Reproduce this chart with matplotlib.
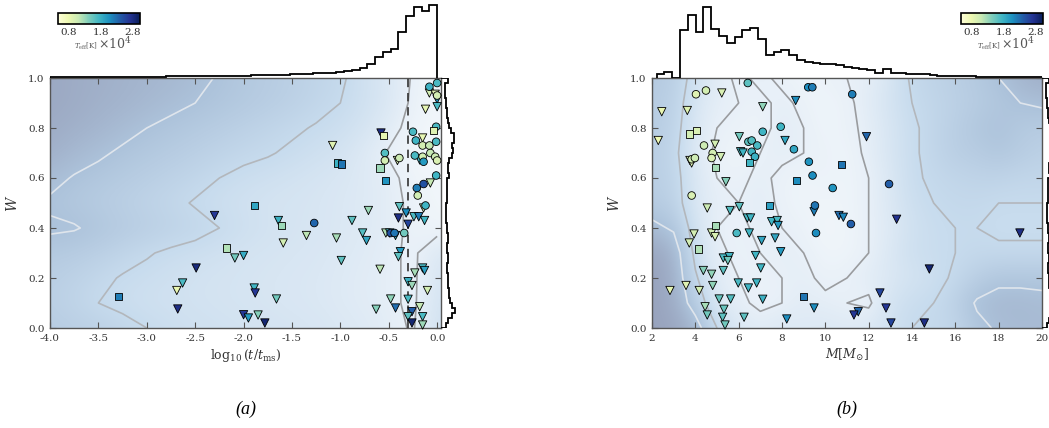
import numpy as np
import matplotlib
matplotlib.use('Agg')
import matplotlib.pyplot as plt
from matplotlib.colors import LinearSegmentedColormap, Normalize
from matplotlib.cm import ScalarMappable

plt.rcParams['font.family'] = ['DejaVu Serif']
plt.rcParams['mathtext.fontset'] = 'dejavuserif'

# ---------------- stars: (a) age fraction vs W ----------------
tri_a_x = [-2.30, -2.09, -2.00, -2.49, -2.63, -2.69, -2.68, -2.00, -1.95, -1.89, -1.88, -1.66,
           -1.85, -1.78, -1.64, -1.59, -1.35, -1.08, -1.04, -0.99, -0.88, -0.77, -0.73, -0.71,
           -0.58, -0.41, -0.15, -0.07, -0.14, -0.39, -0.32, -0.40, -0.30, -0.24, -0.19, -0.13,
           -0.53, -0.49, -0.43, -0.38, -0.40, -0.59, -0.30, -0.26, -0.15, -0.13, -0.23, -0.10,
           -0.48, -0.43, -0.30, -0.26, -0.18, -0.30, -0.26, -0.15, -0.15, -0.63, -0.08, -0.02,
           0.00, -0.12, 0.00, -0.18]
tri_a_w = [0.45, 0.28, 0.29, 0.24, 0.18, 0.15, 0.076, 0.053, 0.04, 0.16, 0.14, 0.116,
           0.052, 0.02, 0.43, 0.34, 0.37, 0.73, 0.36, 0.27, 0.43, 0.38, 0.35, 0.47,
           0.78, 0.67, 0.76, 0.58, 0.48, 0.485, 0.46, 0.44, 0.415, 0.445, 0.445, 0.43,
           0.38, 0.38, 0.37, 0.305, 0.285, 0.235, 0.185, 0.17, 0.24, 0.23, 0.22, 0.15,
           0.116, 0.08, 0.115, 0.065, 0.085, 0.045, 0.02, 0.045, 0.012, 0.075, 0.94, 0.935,
           0.915, 0.875, 0.885, 0.672]
tri_a_t = [27000, 15000, 18500, 28500, 17000, 8000, 28000, 27000, 20000, 17500, 27000, 15000,
           14000, 29000, 18000, 10000, 11500, 9000, 12500, 16000, 16000, 16500, 19000, 13000,
           28000, 9500, 8500, 11000, 10000, 16000, 21000, 28000, 26000, 17000, 22000, 17500,
           12000, 17000, 17500, 20000, 16000, 11500, 18000, 13000, 17000, 19500, 12500, 10000,
           13500, 23000, 17000, 24000, 11000, 16000, 29000, 17000, 13000, 14000, 10000, 9000,
           21000, 8500, 17000, 17500]

circ_a_x = [-1.27, -0.54, -0.54, -0.39, -0.25, -0.22, -0.15, -0.08, -0.01, -0.15, -0.07, -0.02,
            0.00, -0.23, -0.14, -0.01, -0.21, -0.14, -0.20, -0.12, -0.48, -0.44, -0.34, -0.08,
            0.00, -0.01, 0.00]
circ_a_w = [0.42, 0.70, 0.67, 0.68, 0.785, 0.75, 0.73, 0.73, 0.745, 0.685, 0.70, 0.685,
            0.67, 0.69, 0.665, 0.61, 0.56, 0.576, 0.53, 0.49, 0.38, 0.38, 0.38, 0.965,
            0.98, 0.805, 0.93]
circ_a_t = [23500, 16500, 10000, 10500, 17000, 17500, 10000, 11000, 17000, 10000, 11000, 10500,
            9500, 17000, 20000, 17500, 22000, 25000, 10000, 17500, 25000, 22500, 15000, 18000,
            17000, 17000, 10000]

sq_a_x = [-2.18, -3.29, -1.89, -1.61, -1.03, -0.99, -0.55, -0.59, -0.53, -0.04]
sq_a_w = [0.32, 0.125, 0.49, 0.41, 0.66, 0.656, 0.77, 0.64, 0.59, 0.79]
sq_a_t = [12000, 22000, 19000, 13000, 18000, 22500, 8500, 13000, 20500, 9000]

# ---------------- stars: (b) mass vs W ----------------
tri_b_m = [2.45, 2.29, 3.63, 5.22, 7.11, 8.14, 8.63, 4.91, 5.17, 3.75, 3.83, 6.03, 6.09, 6.20,
           5.41, 4.55, 5.60, 6.03, 6.40, 6.55, 7.52, 7.78, 7.82, 7.68, 7.06, 6.49, 7.94, 4.75,
           4.91, 3.94, 3.72, 5.29, 5.57, 5.50, 6.78, 7.02, 4.37, 4.75, 5.29, 4.80, 5.98, 6.45,
           6.83, 3.57, 2.83, 4.18, 5.10, 5.63, 7.11, 4.45, 5.32, 4.55, 5.26, 6.25, 5.37, 8.22,
           9.48, 9.48, 11.90, 10.63, 10.83, 13.29, 18.98, 14.80, 12.52, 12.80, 11.52, 11.32,
           13.03, 14.57]
tri_b_w = [0.865, 0.75, 0.87, 0.94, 0.885, 0.75, 0.91, 0.735, 0.685, 0.67, 0.66, 0.765, 0.705,
           0.70, 0.585, 0.48, 0.47, 0.485, 0.44, 0.44, 0.425, 0.43, 0.41, 0.36, 0.35, 0.38,
           0.305, 0.38, 0.365, 0.376, 0.34, 0.28, 0.285, 0.27, 0.29, 0.24, 0.23, 0.215, 0.23,
           0.17, 0.18, 0.16, 0.18, 0.17, 0.15, 0.15, 0.116, 0.116, 0.115, 0.085, 0.075, 0.052,
           0.043, 0.043, 0.012, 0.036, 0.08, 0.465, 0.765, 0.45, 0.443, 0.435, 0.38, 0.236,
           0.14, 0.08, 0.065, 0.052, 0.02, 0.02]
tri_b_t = [8000, 7500, 9000, 9500, 13500, 19000, 21000, 10000, 10000, 9500, 9000, 15000, 17000,
           17500, 14000, 10500, 16500, 16000, 17000, 17500, 17500, 17000, 20000, 19000, 19000,
           17500, 20000, 10000, 9500, 10000, 10000, 17000, 17500, 15000, 17500, 17500, 14000,
           13500, 16000, 13500, 17000, 17500, 17500, 9000, 8500, 10000, 15500, 16500, 18000,
           12500, 15500, 15000, 16000, 16000, 15000, 21000, 21000, 22000, 23500, 23000, 21500,
           27500, 28000, 29000, 26000, 27000, 23500, 27000, 26000, 28000]

circ_b_m = [4.03, 4.49, 6.42, 7.11, 7.94, 8.55, 9.21, 9.40, 9.24, 9.41, 9.52, 9.57, 4.40, 4.80,
            4.75, 3.83, 3.98, 6.45, 6.60, 6.86, 6.60, 6.75, 3.83, 5.91, 11.24, 10.34, 12.94,
            11.18]
circ_b_w = [0.935, 0.95, 0.98, 0.785, 0.805, 0.715, 0.963, 0.963, 0.665, 0.61, 0.49, 0.38,
            0.73, 0.70, 0.68, 0.675, 0.68, 0.745, 0.75, 0.73, 0.705, 0.685, 0.53, 0.38, 0.935,
            0.56, 0.576, 0.416]
circ_b_t = [9000, 10000, 16000, 17500, 17500, 19000, 21000, 22000, 20500, 21000, 22500, 21000,
            10500, 10000, 9500, 10000, 10500, 16000, 16500, 17000, 17500, 18000, 9500, 17000,
            22000, 20500, 24000, 24000]

sq_b_m = [3.72, 4.06, 4.95, 6.49, 8.68, 7.41, 4.91, 4.14, 8.98, 10.75]
sq_b_w = [0.776, 0.79, 0.643, 0.663, 0.59, 0.49, 0.41, 0.316, 0.125, 0.655]
sq_b_t = [10000, 9500, 12500, 17500, 21000, 19500, 12500, 12000, 22500, 22500]

# ---------------- model population: marginal histograms ----------------
age_edges = np.linspace(-4.0, 0.0, 51)
age_counts = [0.8, 0.9, 0.9, 1.0, 1.0, 1.1, 1.1, 1.2, 1.2, 1.3,
              1.3, 1.4, 1.4, 1.5, 1.5, 1.6, 1.7, 1.7, 1.8, 1.9,
              2.0, 2.1, 2.2, 2.3, 2.4, 2.5, 2.6, 2.8, 3.0, 3.1,
              3.3, 3.6, 3.9, 4.2, 4.6, 5.0, 5.5, 6.2, 7.2, 8.0,
              9.7, 13.7, 20.7, 25.7, 29.0, 45.7, 62.0, 70.7, 67.0, 72.7]

mass_edges = np.linspace(2.21, 20.21, 51)
mass_counts = [4.0, 6.3, 0.0, 48.0, 63.0, 46.0, 71.0, 49.0, 42.0, 35.0,
               41.0, 48.0, 50.0, 39.0, 23.0, 26.0, 28.0, 23.0, 18.0, 16.0,
               15.0, 14.5, 14.0, 13.0, 11.0, 10.0, 9.5, 8.0, 5.3, 8.7,
               5.3, 5.0, 4.5, 4.0, 4.0, 3.0, 2.0, 1.8, 1.7, 1.6,
               1.6, 1.5, 1.5, 1.5, 1.4, 1.4, 1.4, 1.3, 1.3, 1.2]

w_edges = np.linspace(0.0, 1.0, 51)
w_counts = [5.0, 7.0, 11.0, 14.5, 10.5, 8.5, 8.0, 7.5, 7.0, 7.0,
            6.5, 6.0, 6.0, 6.5, 6.5, 6.0, 6.0, 6.5, 7.0, 6.0,
            5.5, 5.0, 4.5, 5.0, 5.0, 5.5, 6.0, 5.5, 6.0, 6.0,
            7.5, 7.0, 7.0, 8.0, 11.0, 12.0, 11.0, 13.0, 13.0, 10.0,
            8.0, 7.0, 6.0, 5.5, 5.0, 4.5, 4.0, 3.5, 3.5, 7.3]

# ---------------- model population: smoothed density maps ----------------
# (a): columns log t/tms = -4.0 .. 0.0 step 0.25, rows W = 0.0 .. 1.0 step 0.1
bg_a = [
    [1.4, 1.5, 1.6, 1.8, 2.0, 2.15, 2.25, 2.3, 2.35, 2.4, 2.45, 2.5, 2.6, 2.7, 2.85, 3.05, 2.3],
    [1.55, 1.75, 2.0, 2.15, 2.25, 2.3, 2.35, 2.4, 2.45, 2.5, 2.55, 2.6, 2.7, 2.8, 2.9, 3.1, 2.4],
    [1.5, 1.65, 1.85, 2.05, 2.15, 2.25, 2.35, 2.4, 2.45, 2.5, 2.55, 2.6, 2.7, 2.8, 2.9, 3.1, 2.5],
    [1.3, 1.4, 1.55, 1.75, 1.95, 2.1, 2.2, 2.3, 2.4, 2.45, 2.5, 2.55, 2.65, 2.75, 2.9, 3.1, 2.6],
    [0.9, 0.95, 1.15, 1.35, 1.5, 1.65, 1.8, 2.0, 2.2, 2.35, 2.45, 2.5, 2.6, 2.7, 2.85, 3.1, 3.2],
    [1.1, 1.25, 1.4, 1.55, 1.7, 1.85, 2.05, 2.2, 2.3, 2.4, 2.45, 2.5, 2.6, 2.7, 2.85, 3.1, 3.3],
    [0.8, 1.05, 1.2, 1.35, 1.5, 1.65, 1.8, 2.0, 2.15, 2.25, 2.35, 2.45, 2.55, 2.7, 2.85, 3.2, 3.3],
    [0.45, 0.7, 0.9, 1.1, 1.25, 1.4, 1.55, 1.7, 1.85, 1.95, 2.1, 2.25, 2.4, 2.7, 3.05, 3.3, 3.4],
    [0.3, 0.45, 0.6, 0.8, 1.0, 1.15, 1.3, 1.45, 1.6, 1.75, 1.9, 2.05, 2.2, 2.45, 2.8, 3.2, 3.3],
    [0.2, 0.3, 0.45, 0.55, 0.7, 0.85, 1.0, 1.15, 1.3, 1.45, 1.6, 1.8, 2.0, 2.3, 2.6, 3.1, 3.3],
    [0.2, 0.3, 0.4, 0.5, 0.6, 0.7, 0.85, 1.05, 1.25, 1.4, 1.55, 1.75, 1.9, 2.3, 2.6, 3.05, 3.3],
]
# (b): columns M = 2 .. 20 step 1, rows W = 0.0 .. 1.0 step 0.1
bg_b = [
    [0.0, 0.1, 0.6, 2.0, 2.6, 2.8, 2.6, 2.7, 2.6, 2.7, 2.6, 2.3, 2.0, 1.9, 1.8, 1.2, 0.9, 0.8, 0.8],
    [0.0, 0.3, 1.4, 2.7, 2.9, 3.1, 3.0, 2.8, 2.9, 3.0, 3.1, 2.4, 2.1, 2.0, 1.6, 0.9, 0.7, 0.7, 0.8],
    [0.0, 0.35, 1.9, 2.8, 3.0, 3.1, 3.0, 2.9, 3.1, 3.0, 2.8, 2.6, 2.4, 2.2, 1.9, 1.5, 1.2, 1.2, 1.2],
    [0.1, 0.5, 2.2, 2.9, 3.1, 3.0, 2.9, 3.0, 3.2, 3.2, 3.0, 2.6, 2.2, 2.1, 2.0, 1.9, 1.9, 1.9, 1.9],
    [0.8, 1.1, 2.4, 3.0, 3.1, 2.9, 3.0, 3.1, 3.3, 3.2, 3.0, 2.7, 2.3, 2.1, 2.0, 2.0, 2.1, 2.1, 2.1],
    [1.4, 1.6, 2.6, 2.9, 3.0, 2.8, 3.1, 3.2, 3.2, 3.2, 3.0, 2.6, 2.2, 2.0, 1.9, 1.9, 2.0, 2.0, 2.0],
    [1.5, 1.7, 2.6, 3.0, 3.1, 2.9, 3.1, 3.2, 3.1, 3.2, 3.0, 2.6, 2.1, 1.9, 1.8, 1.7, 1.7, 1.8, 1.8],
    [1.5, 1.8, 2.7, 3.1, 3.2, 3.0, 2.9, 3.0, 3.1, 3.2, 2.9, 2.5, 2.1, 1.8, 1.5, 1.4, 1.2, 1.4, 1.6],
    [1.4, 1.7, 2.6, 3.0, 3.1, 3.2, 2.8, 3.0, 3.2, 3.1, 2.9, 2.5, 2.1, 1.8, 1.5, 1.2, 1.0, 1.3, 1.4],
    [1.4, 1.6, 2.5, 2.9, 3.0, 3.1, 2.9, 3.1, 3.2, 3.1, 2.8, 2.4, 2.0, 1.8, 1.6, 1.4, 1.2, 1.0, 0.9],
    [1.3, 1.5, 2.3, 2.8, 3.1, 2.9, 3.1, 3.2, 3.1, 3.0, 2.9, 2.5, 1.9, 1.7, 1.5, 1.3, 1.0, 0.6, 0.4],
]

bg_cmap = LinearSegmentedColormap.from_list(
    'bg', [(0.0, '#98a3bd'), (0.3, '#adc3db'), (0.6, '#c8dcee'), (0.88, '#e8f0f8'), (1.0, '#f4f8fb')])
teff_norm = Normalize(4500, 30500)
teff_cmap = plt.get_cmap('YlGnBu')

FW, FH = 1049.0, 428.0
fig = plt.figure(figsize=(FW / 100, FH / 100), dpi=100)


def box(x0, y0, x1, y1):
    # pixel box measured from the top-left corner -> figure rectangle
    return [x0 / FW, 1 - y1 / FH, (x1 - x0) / FW, (y1 - y0) / FH]


def draw_panel(px0, px1, xlim, xticks, xlabel, grid, gx, stars, top_edges, top_counts,
               cbar_px, caption):
    ax = fig.add_axes(box(px0, 78, px1, 328))
    grid = np.array(grid)
    step = gx[1] - gx[0]
    ax.imshow(grid, origin='lower', aspect='auto', cmap=bg_cmap, vmin=0, vmax=3.4,
              interpolation='bicubic', zorder=0,
              extent=(gx[0] - step / 2, gx[-1] + step / 2, -0.05, 1.05))
    gy = np.linspace(0, 1, grid.shape[0])
    ax.contour(gx, gy, grid, levels=[1.0], colors=['#dfe5ec'], linewidths=1.2, zorder=1)
    ax.contour(gx, gy, grid, levels=[2.0], colors=['#b3b7bc'], linewidths=1.2, zorder=1)
    ax.contour(gx, gy, grid, levels=[3.0], colors=['#9a9c9f'], linewidths=1.2, zorder=1)

    for (x, w, t), mk, s in zip(stars, ['v', 'o', 's'], [36, 30, 26]):
        ax.scatter(x, w, c=t, cmap=teff_cmap, norm=teff_norm, marker=mk, s=s,
                   edgecolors='k', linewidths=0.6, zorder=4, clip_on=False)

    ax.set_xlim(*xlim)
    ax.set_ylim(0, 1)
    ax.set_xticks(xticks)
    ax.set_yticks(np.arange(0, 1.01, 0.2))
    ax.xaxis.set_major_formatter(plt.FormatStrFormatter('%g' if xlim[1] > 5 else '%.1f'))
    ax.yaxis.set_major_formatter(plt.FormatStrFormatter('%.1f'))
    ax.tick_params(direction='in', top=True, right=True, length=4, width=0.8, color='#555555',
                   labelsize=7.5, labelcolor='#333333', pad=4)
    for sp in ax.spines.values():
        sp.set_color('#555555')
        sp.set_linewidth(1.0)
    ax.set_xlabel(xlabel, fontsize=9, color='#333333', labelpad=3)
    ax.set_ylabel(r'$W$', fontsize=10, color='#333333', labelpad=6)

    # marginal distributions of the model population
    hx = fig.add_axes(box(px0, 3, px1, 78))
    hx.stairs(top_counts, top_edges, color='k', lw=1.3)
    hx.set_xlim(*xlim)
    hx.set_ylim(0, 75)
    hx.axis('off')

    hy = fig.add_axes(box(px1, 78, px1 + 20, 328))
    hy.stairs(w_counts, w_edges, orientation='horizontal', color='k', lw=1.3)
    hy.set_xlim(0, 20)
    hy.set_ylim(0, 1)
    hy.axis('off')

    cax = fig.add_axes(box(*cbar_px))
    cb = fig.colorbar(ScalarMappable(norm=teff_norm, cmap=teff_cmap), cax=cax,
                      orientation='horizontal', ticks=[8000, 18000, 28000])
    cb.ax.set_xticklabels(['0.8', '1.8', '2.8'])
    cb.ax.tick_params(length=0, labelsize=7.5, labelcolor='#333333', pad=3)
    cb.outline.set_linewidth(1.2)
    cx = (cbar_px[0] + cbar_px[2]) / 2
    fig.text((cx - 2) / FW, 1 - 49 / FH, r'$T_{\rm eff}$[K]', fontsize=5, color='#555555',
             ha='right', va='baseline')
    fig.text((cx - 1) / FW, 1 - 49 / FH, r'$\times10^4$', fontsize=9, color='#555555',
             ha='left', va='baseline')

    fig.text((px0 + px1) / 2 / FW, 1 - 409 / FH, caption, fontsize=13, style='italic',
             family=['Liberation Serif', 'DejaVu Serif'], ha='center', va='center')
    return ax


ax_a = draw_panel(50, 441, (-4.0, 0.04), np.arange(-4.0, 0.01, 0.5), r'$\log_{10}(t/t_{\rm ms})$',
                  bg_a, np.linspace(-4.0, 0.0, 17),
                  [(tri_a_x, tri_a_w, tri_a_t), (circ_a_x, circ_a_w, circ_a_t),
                   (sq_a_x, sq_a_w, sq_a_t)],
                  age_edges, age_counts, (58, 13, 140, 24), '(a)')
ax_a.axvline(-0.3, color='#333333', ls=(0, (5, 3.5)), lw=1.2, zorder=3)

ax_b = draw_panel(652, 1042, (2, 20), np.arange(2, 21, 2), r'$M[M_{\odot}]$',
                  bg_b, np.linspace(2, 20, 19),
                  [(tri_b_m, tri_b_w, tri_b_t), (circ_b_m, circ_b_w, circ_b_t),
                   (sq_b_m, sq_b_w, sq_b_t)],
                  mass_edges, mass_counts, (961, 13, 1043, 24), '(b)')

fig.savefig('out.png', dpi=100)
